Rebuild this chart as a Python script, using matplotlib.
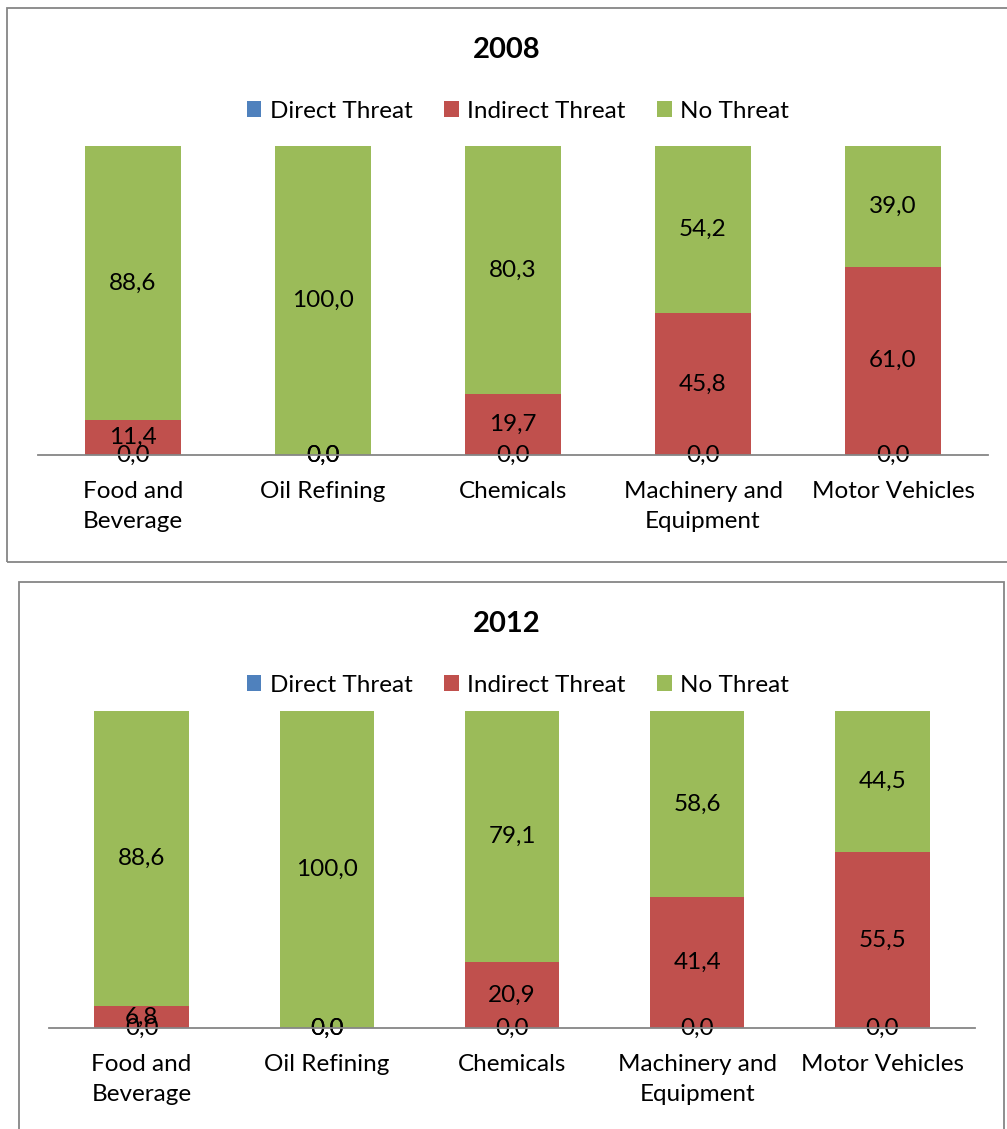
import matplotlib
matplotlib.use("Agg")
import matplotlib.pyplot as plt
from matplotlib.patches import Rectangle

plt.rcParams['font.family'] = ['Lato', 'DejaVu Sans']

# Data
categories = ["Food and\nBeverage", "Oil Refining", "Chemicals",
              "Machinery and\nEquipment", "Motor Vehicles"]
series_names = ["Direct Threat", "Indirect Threat", "No Threat"]
colors = ["#4F81BD", "#C0504D", "#9BBB59"]

direct_2008 = [0.0, 0.0, 0.0, 0.0, 0.0]
indirect_2008 = [11.4, 0.0, 19.7, 45.8, 61.0]
none_2008 = [88.6, 100.0, 80.3, 54.2, 39.0]

direct_2012 = [0.0, 0.0, 0.0, 0.0, 0.0]
indirect_2012 = [6.8, 0.0, 20.9, 41.4, 55.5]
# the food bar is drawn full height in the source, but its label reads 88,6
none_2012 = [93.2, 100.0, 79.1, 58.6, 44.5]
none_2012_labels = ["88,6", "100,0", "79,1", "58,6", "44,5"]

W, H = 1007, 1129
fig = plt.figure(figsize=(W / 100, H / 100), dpi=100)
FS = 17.5


def px_rect(x0, y0, x1, y1):
    # pixel box (from top-left) -> figure fraction [l, b, w, h]
    return [x0 / W, 1 - y1 / H, (x1 - x0) / W, (y1 - y0) / H]


def fmt(vals):
    return [f"{v:.1f}".replace(".", ",") for v in vals]


def panel(box, ax_box, title, title_y, legend_y, data, labels):
    # chart border
    l, b, w, h = px_rect(*box)
    fig.patches.append(Rectangle((l, b), w, h, transform=fig.transFigure,
                                 fill=False, edgecolor="#868686", lw=1.3))

    ax = fig.add_axes(px_rect(*ax_box))
    x = range(len(categories))
    bottom = [0.0] * len(categories)
    handles = []
    for name, vals, labs, c in zip(series_names, data, labels, colors):
        bars = ax.bar(x, vals, width=0.51, bottom=bottom, color=c,
                      label=name, zorder=2)
        handles.append(bars)
        ax.bar_label(bars, labels=labs, label_type="center", fontsize=FS,
                     color="black", zorder=3)
        bottom = [bo + v for bo, v in zip(bottom, vals)]

    ax.set_xlim(-0.5, len(categories) - 0.5)
    ax.set_ylim(0, 100)
    ax.set_yticks([])
    ax.set_xticks(list(x))
    ax.set_xticklabels(categories, fontsize=FS, linespacing=1.55)
    ax.tick_params(axis="x", length=0, pad=18.5)
    for s in ["top", "left", "right"]:
        ax.spines[s].set_visible(False)
    ax.spines["bottom"].set_color("#868686")
    ax.spines["bottom"].set_linewidth(1.3)
    ax.spines["bottom"].set_zorder(4)

    fig.text(507 / W, 1 - title_y / H, title, ha="center", va="center",
             fontsize=21, fontweight="bold")
    fig.legend(handles=handles, labels=series_names, loc="center",
               bbox_to_anchor=(518 / W, 1 - legend_y / H), ncol=3,
               frameon=False, fontsize=FS, handlelength=0.6, handleheight=0.6,
               handletextpad=0.35, columnspacing=1.3)
    return ax


panel((7, 8, 1012, 562), (38, 146, 988, 455), "2008", 50, 111,
      [direct_2008, indirect_2008, none_2008],
      [fmt(direct_2008), fmt(indirect_2008), fmt(none_2008)])
panel((19, 582, 1004, 1140), (49, 711, 975, 1028), "2012", 624, 685,
      [direct_2012, indirect_2012, none_2012],
      [fmt(direct_2012), fmt(indirect_2012), none_2012_labels])

fig.savefig("out.png", dpi=100)
